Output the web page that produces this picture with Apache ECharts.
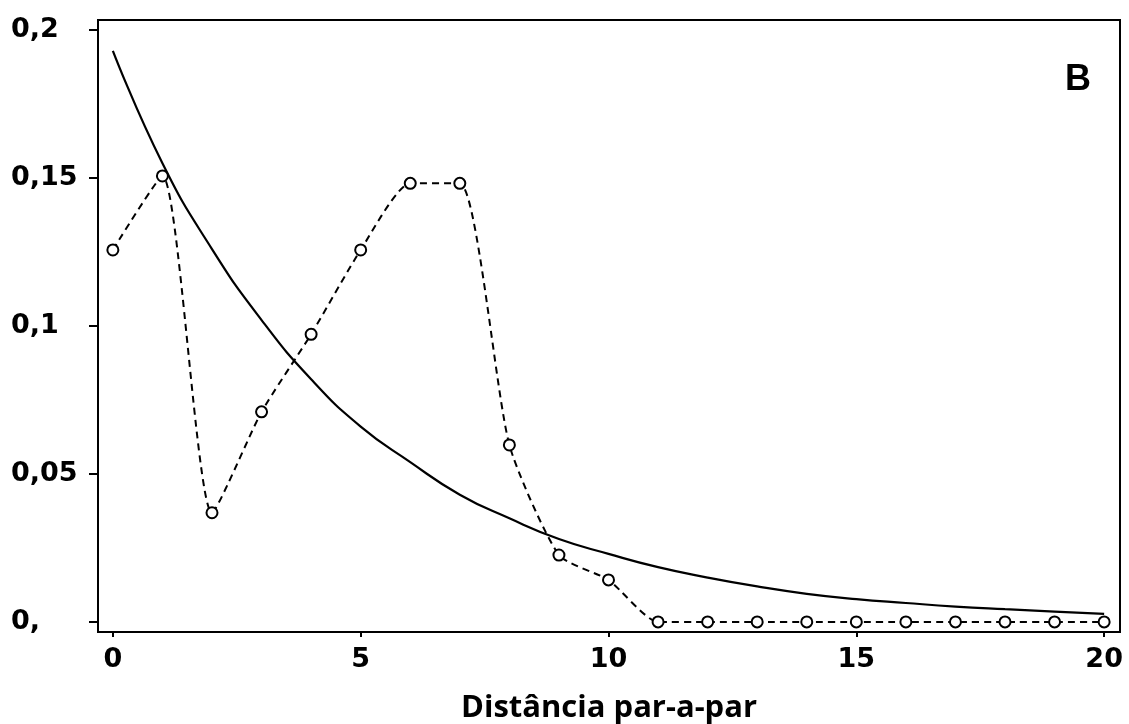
<!DOCTYPE html>
<html>
<head>
<meta charset="utf-8">
<script src="https://cdn.jsdelivr.net/npm/echarts@6/dist/echarts.min.js"></script>
<style>
html,body{margin:0;padding:0;background:#fff;}
#chart{width:1129px;height:724px;}
</style>
</head>
<body>
<div id="chart"></div>
<script>
const distances = [0,1,2,3,4,5,6,7,8,9,10,11,12,13,14,15,16,17,18,19,20];
const observed = [0.1257,0.1507,0.0369,0.0710,0.0972,0.1257,0.1482,0.1482,0.0598,0.0226,0.0142,0,0,0,0,0,0,0,0,0,0];
const expected = [0.193,0.155,0.126,0.102,0.082,0.066,0.054,0.043,0.035,0.028,0.023,0.0185,0.015,0.012,0.0095,0.0077,0.0064,0.0052,0.0043,0.0035,0.0027];
const xTicks = [0,5,10,15,20];
const yTicks = [0,0.05,0.1,0.15,0.2];
const yTickLabels = ['0,','0,05','0,1','0,15','0,2'];
const xName = 'Distância par-a-par';
const panelLabel = 'B';

const chart = echarts.init(document.getElementById('chart'), null, {renderer:'canvas'});
const tickFont = {fontFamily:'DejaVu Sans', fontWeight:'bold', fontSize:27, color:'#000'};
chart.setOption({
  animation:false,
  backgroundColor:'#fff',
  grid:{left:98, right:9, top:20, bottom:92, show:true, borderColor:'#000', borderWidth:2,
        backgroundColor:'transparent', containLabel:false, outerBoundsMode:'none'},
  xAxis:{
    type:'value', min:-0.3, max:20.32,
    name:xName, nameLocation:'middle', nameGap:61,
    nameTextStyle:{fontFamily:'Open Sans', fontWeight:'bold', fontSize:31, color:'#000'},
    axisLine:{show:true, onZero:false, lineStyle:{color:'#000', width:2}},
    axisTick:{show:true, length:5, lineStyle:{color:'#000', width:2}, customValues:xTicks},
    axisLabel:Object.assign({margin:14, customValues:xTicks, formatter:v=>String(v)}, tickFont),
    splitLine:{show:false}
  },
  yAxis:{
    type:'value', min:-0.0034, max:0.2034,
    axisLine:{show:true, onZero:false, lineStyle:{color:'#000', width:2}},
    axisTick:{show:true, length:9, lineStyle:{color:'#000', width:2}, customValues:yTicks},
    axisLabel:Object.assign({margin:87, align:'left', customValues:yTicks, formatter:v=>{
      const i = yTicks.findIndex(t=>Math.abs(t-v)<1e-9); return i>=0?yTickLabels[i]:'';
    }}, tickFont),
    splitLine:{show:false}
  },
  graphic:[{type:'text', left:1065, top:62, style:{text:panelLabel, font:'bold 36px "Liberation Sans"', fill:'#000'}}],
  series:[
    {type:'line', data:distances.map((d,i)=>[d,expected[i]]), smooth:0.5, symbol:'none',
     lineStyle:{color:'#000', width:2.2}, z:2},
    {type:'line', data:distances.map((d,i)=>[d,observed[i]]), smooth:0.2, symbol:'emptyCircle', symbolSize:11,
     showSymbol:true,
     itemStyle:{color:'#000', borderColor:'#000', borderWidth:2},
     lineStyle:{color:'#000', width:2, type:[7,5]}, z:3}
  ]
});
</script>
</body>
</html>
